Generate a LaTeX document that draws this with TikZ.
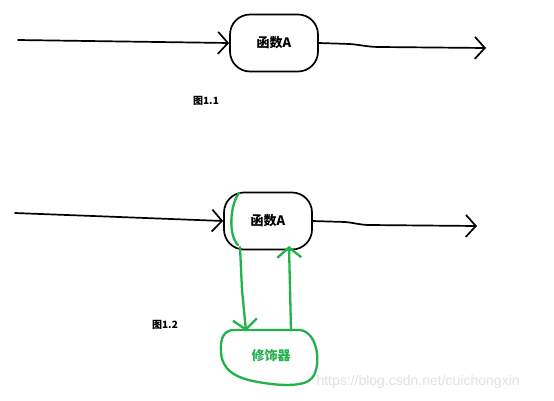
\documentclass[tikz,border=0pt]{standalone}
\usepackage{fontspec}
\newfontfamily\cjk{Noto Sans CJK SC}
\setmainfont{Liberation Sans}
\usetikzlibrary{arrows.meta}
\definecolor{pgreen}{RGB}{34,177,76}
\definecolor{wm}{RGB}{226,226,226}
\tikzset{
  ink/.style={line width=1.7pt,line cap=round,line join=round},
  arr/.style={ink,-{Straight Barb[length=10pt,width=22pt,line width=1.7pt]}},
  funbox/.style={ink,draw,rounded corners=20pt,minimum width=88pt,minimum height=57pt,font=\cjk\bfseries\fontsize{13}{15}\selectfont},
  gink/.style={draw=pgreen,line width=2.3pt,line cap=round,line join=round},
  garr/.style={gink,-{Straight Barb[length=10pt,width=24pt,line width=2.3pt]}},
  figcap/.style={font=\cjk\bfseries\fontsize{10}{12}\selectfont},
}
\begin{document}
\begin{tikzpicture}[x=1pt,y=-1pt]
\useasboundingbox[fill=white] (0,0) rectangle (554,400);
% Figure 1.1
\node[funbox] (fa1) at (274,43) {函数A};
\coordinate (in1) at (18,40);
\coordinate (out1) at (486,48);
\draw[arr] (in1) -- (fa1.west);
\draw[arr] (fa1.east) -- (350,44) to[out=-5,in=180] (380,47) -- (out1);
\node[figcap] (c1) at (206,101) {图1.1};
% Figure 1.2
\node[funbox] (fa2) at (268,221) {函数A};
\coordinate (in2) at (15,213);
\coordinate (out2) at (477,226);
\draw[arr] (in2) -- (fa2.west);
\draw[arr] (fa2.east) -- (345,222) to[out=-5,in=180] (370,225) -- (out2);
\node[figcap] (c2) at (165,325) {图1.2};
% green decorator
\draw[gink] (239,193) .. controls (230,205) and (228,235) .. (238,245);
\node[font=\cjk\bfseries\fontsize{13}{15}\selectfont,text=pgreen] (deco) at (271,356) {修饰器};
\draw[gink] (234,330) -- (300,330) .. controls (318,332) and (322,366) .. (312,378) .. controls (305,387) and (280,386) .. (258,382) .. controls (235,378) and (222,370) .. (221,352) .. controls (220,338) and (224,330) .. cycle;
\coordinate (g1) at (240,247);
\coordinate (g1e) at (246,331);
\coordinate (g2) at (291,330);
\coordinate (g2e) at (289,246);
\draw[garr] (g1) -- (242,290) -- (g1e);
\draw[garr] (g2) -- (g2e);
% watermark
\node[font=\fontsize{14}{16}\selectfont,text=wm,anchor=west] (wmk) at (313,382) {https://blog.csdn.net/cuichongxin};
\end{tikzpicture}
\end{document}
